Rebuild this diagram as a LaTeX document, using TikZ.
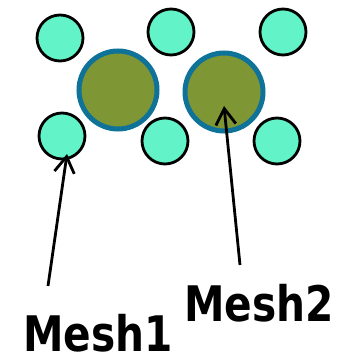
\documentclass[tikz,border=0pt]{standalone}
\usepackage{fontspec}
\newfontfamily\labelfont{DejaVu Sans}
\usetikzlibrary{arrows.meta}
\definecolor{aqua}{HTML}{62F4C8}
\definecolor{olive}{HTML}{7E9634}
\definecolor{ring}{HTML}{0E7299}
\begin{document}
\begin{tikzpicture}[x=1pt,y=-1pt,
  small/.style={circle,draw=black,line width=2.8pt,fill=aqua,minimum size=46pt,inner sep=0pt},
  big/.style={circle,draw=ring,line width=5pt,fill=olive,minimum size=78pt,inner sep=0pt},
  pointer/.style={line width=2.8pt,-{Straight Barb[length=16pt,width=20pt,line width=2.8pt]}},
  lbl/.style={font=\labelfont\bfseries\fontsize{49}{49}\selectfont,xscale=0.83,anchor=base,inner sep=0pt}]
\useasboundingbox (0,0) rectangle (346,358);
\fill[white] (0,0) rectangle (346,358);
\node[small] (c1) at (60,38) {};
\node[small] (c2) at (171,32) {};
\node[small] (c3) at (283,32) {};
\node[small] (c4) at (62,136) {};
\node[small] (c5) at (165,141) {};
\node[small] (c6) at (277,141) {};
\node[big] (b1) at (118,90) {};
\node[big] (b2) at (224,92) {};
\node[lbl] (m1) at (98,351) {Mesh1};
\node[lbl] (m2) at (259,321) {Mesh2};
\coordinate (t1) at (48,286);
\coordinate (h1) at (67,154);
\coordinate (t2) at (240,265);
\coordinate (h2) at (224,106);
\draw[pointer] (t1) -- (h1);
\draw[pointer] (t2) -- (h2);
\end{tikzpicture}
\end{document}
